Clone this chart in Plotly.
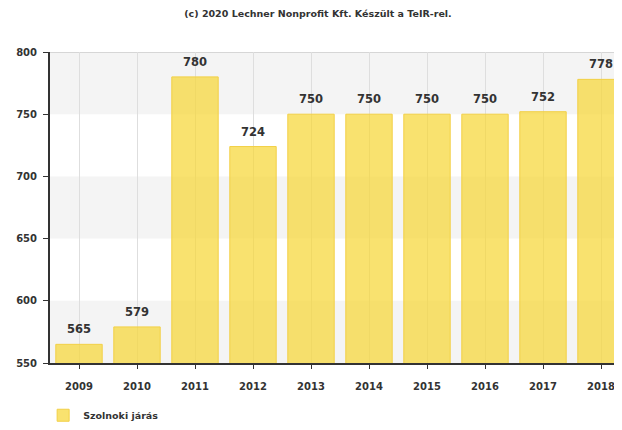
import plotly.graph_objects as go

years = ["2009", "2010", "2011", "2012", "2013", "2014", "2015", "2016", "2017", "2018"]
values = [565, 579, 780, 724, 750, 750, 750, 750, 752, 778]
series_name = "Szolnoki járás"
y_ticks = [550, 600, 650, 700, 750, 800]
title_text = "(c) 2020 Lechner Nonprofit Kft. Készült a TeIR-rel."

FONT = "DejaVu Sans"
fig = go.Figure()
fig.add_trace(go.Bar(
    x=list(range(len(years))), y=values, name=series_name,
    marker=dict(color="rgba(247,215,55,0.72)", line=dict(color="rgba(242,208,70,1)", width=1)),
    width=0.8,
))

# alternating background bands
for lo, hi in [(550, 600), (650, 700), (750, 800)]:
    fig.add_shape(type="rect", xref="paper", yref="y", x0=0, x1=1, y0=lo, y1=hi,
                  fillcolor="#f4f4f4", line=dict(width=0), layer="below")
fig.add_shape(type="line", xref="paper", yref="y", x0=0, x1=1, y0=800, y1=800,
              line=dict(color="#d6d6d6", width=2), layer="below")

for i, v in enumerate(values):
    fig.add_annotation(x=i, y=v, text=str(v), showarrow=False, yanchor="bottom", yshift=6,
                       font=dict(family=FONT, size=11.5, color="#333333", weight="bold"))

fig.update_layout(
    width=614, height=422,
    margin=dict(l=42, r=0, t=44, b=62),
    paper_bgcolor="white", plot_bgcolor="white",
    title=dict(text=title_text, x=310/614, xanchor="center", y=1-6/422, yanchor="middle",
               font=dict(family=FONT, size=9.5, color="#333333", weight="bold")),
    showlegend=True,
    legend=dict(x=-0.012, y=-0.168, xanchor="left", yanchor="middle", orientation="h",
                font=dict(family=FONT, size=9.5, color="#333333", weight="bold"),
                bgcolor="rgba(0,0,0,0)"),
    xaxis=dict(range=[-0.5, 9.362], tickvals=list(range(len(years))), ticktext=years,
               showgrid=True, gridcolor="#dedede", gridwidth=1,
               showline=True, linecolor="#333333", linewidth=2, ticks="outside", ticklen=4,
               tickcolor="#333333", tickwidth=1, ticklabelstandoff=9,
               tickfont=dict(family=FONT, size=10, color="#333333", weight="bold"), zeroline=False),
    yaxis=dict(range=[550, 800], tickvals=y_ticks, showgrid=False,
               showline=True, linecolor="#333333", linewidth=2, ticks="outside", ticklen=5,
               tickcolor="#333333", tickwidth=1, ticklabelstandoff=4,
               tickfont=dict(family=FONT, size=10, color="#333333", weight="bold"), zeroline=False),
)

fig.write_html("out.html")
